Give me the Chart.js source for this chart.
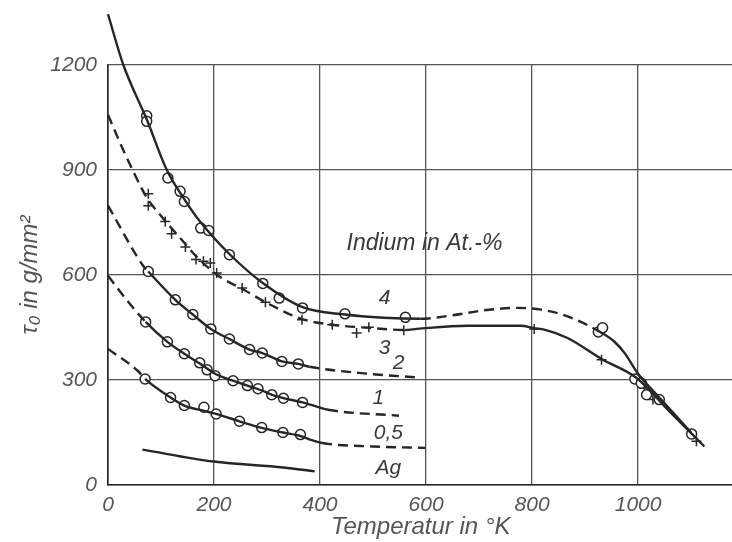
<!DOCTYPE html>
<html>
<head>
<meta charset="utf-8">
<script src="https://cdn.jsdelivr.net/npm/chart.js@4.4.0/dist/chart.umd.min.js"></script>
<style>
  html, body { margin: 0; padding: 0; background: #fff; overflow: hidden; }
  #wrap { width: 740px; height: 542px; }
</style>
</head>
<body>
<div id="wrap"><canvas id="chart"></canvas></div>
<script>
// fitted curves (x = temperature in K, y = tau0 in g/mm2)
const fit4X = [0, 29, 73, 111, 146, 174, 229, 292, 367, 447, 520, 590, 650, 709, 773, 817, 867, 925, 955, 975, 1000, 1040, 1100];
const fit4Y = [1345, 1200, 1045, 900, 812, 752, 660, 577, 508, 487, 478, 475, 485, 499, 506, 501, 482, 440, 410, 376, 318, 250, 150];
const fit3X = [0, 20, 48, 73, 101, 136, 168, 208, 256, 300, 366, 423, 492, 561, 583, 678, 779, 804, 823, 867, 931, 996, 1060, 1125];
const fit3Y = [1058, 987, 895, 822, 767, 706, 651, 598, 558, 520, 474, 458, 449, 443, 446, 455, 455, 448, 444, 420, 360, 307, 209, 110];
const fit2X = [0, 67, 76, 127, 160, 194, 229, 267, 291, 328, 359, 380, 490, 587];
const fit2Y = [798, 625, 610, 529, 487, 446, 417, 387, 377, 353, 346, 338, 318, 307];
const fit1X = [0, 35, 71, 112, 144, 173, 202, 236, 263, 290, 311, 331, 367, 398, 415, 549];
const fit1Y = [598, 529, 466, 409, 375, 347, 318, 298, 284, 270, 257, 248, 236, 222, 215, 198];
const fit05X = [0, 57, 70, 118, 144, 181, 204, 248, 290, 330, 363, 385, 404, 500, 599];
const fit05Y = [389, 325, 303, 250, 227, 212, 203, 182, 163, 150, 140, 128, 120, 110, 106];
const fitAgX = [65, 199, 331, 390];
const fitAgY = [101, 67, 50, 39];

// measured points
const pts4X = [73, 73, 113, 136, 144, 175, 190, 229, 292, 323, 367, 447, 561, 925, 933, 994, 1006, 1016, 1040, 1101];
const pts4Y = [1055, 1039, 877, 839, 810, 734, 727, 658, 576, 534, 506, 489, 479, 437, 449, 303, 291, 258, 244, 146];
const pts3X = [76, 76, 108, 120, 146, 166, 180, 193, 205, 253, 297, 366, 423, 469, 492, 558, 804, 931, 1012, 1028, 1110];
const pts3Y = [832, 798, 753, 718, 680, 644, 639, 634, 606, 563, 522, 472, 458, 434, 451, 442, 446, 358, 277, 244, 125];
const pts2X = [76, 127, 160, 194, 229, 267, 291, 328, 359];
const pts2Y = [610, 529, 487, 446, 417, 387, 377, 353, 346];
const pts1X = [71, 112, 144, 173, 187, 202, 236, 263, 283, 309, 331, 367];
const pts1Y = [466, 409, 375, 349, 329, 312, 298, 284, 275, 258, 248, 236];
const pts05X = [70, 118, 144, 181, 204, 248, 290, 330, 363];
const pts05Y = [303, 250, 227, 222, 203, 182, 164, 150, 144];

const xTicks = [0, 200, 400, 600, 800, 1000];
const labelTexts = ['Indium in At.-%', '4', '3', '2', '1', '0,5', 'Ag'];
const labelX = [597, 522, 522, 548, 510, 529, 529];
const labelY = [689, 535, 392, 347, 247, 149, 47];

const FONT = '"Liberation Sans", Arial, sans-serif';
const INK = '#262626';

function xy(xs, ys) {
  return xs.map((x, i) => ({ x: x, y: ys[i] }));
}

// dashed where a segment lies fully inside one of the ranges
function dashes(ranges) {
  return {
    borderDash: ctx => ranges.some(r => ctx.p0.parsed.x >= r[0] && ctx.p1.parsed.x <= r[1]) ? [10, 6] : undefined
  };
}

function curve(xs, ys, ranges) {
  return {
    data: xy(xs, ys),
    showLine: true,
    borderColor: INK,
    borderWidth: 2.4,
    pointRadius: 0,
    cubicInterpolationMode: 'monotone',
    segment: dashes(ranges),
    clip: false
  };
}

function marks(xs, ys, style) {
  return {
    data: xy(xs, ys),
    showLine: false,
    pointStyle: style,
    pointRadius: 5,
    pointBorderWidth: 1.5,
    pointBorderColor: INK,
    pointBackgroundColor: '#fff'
  };
}

const curveLabels = {
  id: 'curveLabels',
  afterDatasetsDraw(chart) {
    const { ctx, scales: { x, y } } = chart;
    ctx.save();
    ctx.fillStyle = '#3a3a3a';
    ctx.textAlign = 'center';
    ctx.textBaseline = 'middle';
    labelTexts.forEach((t, i) => {
      ctx.font = 'italic ' + (i === 0 ? 23 : 21) + 'px ' + FONT;
      ctx.fillText(t, x.getPixelForValue(labelX[i]), y.getPixelForValue(labelY[i]));
    });
    ctx.restore();
  }
};

const tickFont = { family: FONT, size: 21, style: 'italic' };
const titleFont = { family: FONT, size: 24, style: 'italic' };

new Chart(document.getElementById('chart'), {
  type: 'scatter',
  data: {
    datasets: [
      curve(fit4X, fit4Y, [[590, 925]]),
      curve(fit3X, fit3Y, [[0, 561]]),
      curve(fit2X, fit2Y, [[0, 76], [380, 600]]),
      curve(fit1X, fit1Y, [[0, 71], [415, 600]]),
      curve(fit05X, fit05Y, [[0, 70], [404, 600]]),
      curve(fitAgX, fitAgY, []),
      marks(pts4X, pts4Y, 'circle'),
      marks(pts3X, pts3Y, 'cross'),
      marks(pts2X, pts2Y, 'circle'),
      marks(pts1X, pts1Y, 'circle'),
      marks(pts05X, pts05Y, 'circle')
    ]
  },
  options: {
    responsive: true,
    maintainAspectRatio: false,
    animation: false,
    layout: { padding: { top: 65, right: 0, bottom: 0, left: 0 } },
    plugins: { legend: { display: false }, tooltip: { enabled: false } },
    scales: {
      x: {
        type: 'linear',
        min: 0,
        max: 1180,
        afterBuildTicks: s => { s.ticks = xTicks.map(v => ({ value: v })); },
        afterFit: s => { s.height = 57; },
        grid: { color: '#555', lineWidth: 1.3, drawTicks: false },
        border: { color: INK, width: 1.6 },
        ticks: { color: '#555', padding: 8, font: tickFont, callback: v => String(v) },
        title: {
          display: true,
          text: 'Temperatur in °K',
          color: '#555',
          padding: { top: 0, bottom: 0 },
          font: titleFont
        }
      },
      y: {
        min: 0,
        max: 1200,
        ticks: { stepSize: 300, color: '#555', padding: 11, font: tickFont, callback: v => String(v) },
        afterFit: s => { s.width = 108; },
        grid: { color: '#555', lineWidth: 1.3, drawTicks: false },
        border: { color: INK, width: 1.6 },
        title: {
          display: true,
          text: 'τ₀ in g/mm²',
          color: '#555',
          padding: { top: 16, bottom: 0 },
          font: titleFont
        }
      }
    }
  },
  plugins: [curveLabels]
});
</script>
</body>
</html>
